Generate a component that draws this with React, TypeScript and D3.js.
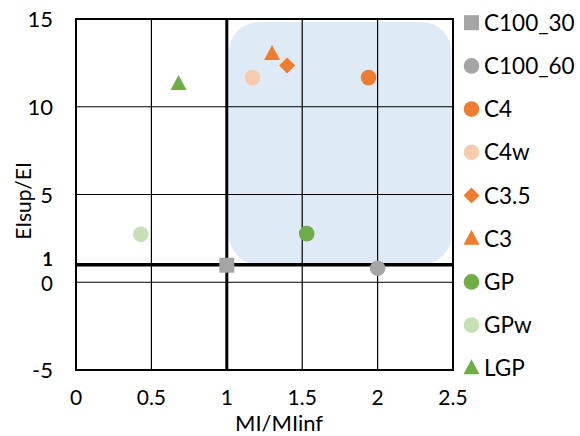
import React from "react";
import * as d3 from "d3";

const xTicks = [0, 0.5, 1, 1.5, 2, 2.5];
const yTicks = [15, 10, 5, 0, -5];
const xGrid = [0.5, 1.5, 2];
const yGrid = [10, 5, 0];

type Series = { name: string; shape: "square" | "circle" | "diamond" | "triangle"; color: string; x: number; y: number };
const seriesNames = ["C100_30", "C100_60", "C4", "C4w", "C3.5", "C3", "GP", "GPw", "LGP"];
const seriesShapes: Series["shape"][] = ["square", "circle", "circle", "circle", "diamond", "triangle", "circle", "circle", "triangle"];
const seriesColors = ["#A5A5A5", "#A5A5A5", "#ED7D31", "#F8CBAD", "#ED7D31", "#ED7D31", "#70AD47", "#C5E0B4", "#70AD47"];
const seriesX = [1.0, 2.0, 1.94, 1.17, 1.4, 1.3, 1.53, 0.43, 0.68];
const seriesY = [0.97, 0.8, 11.66, 11.66, 12.35, 13.0, 2.77, 2.73, 11.3];

const W = 580, H = 436;
const left = 76, right = 453, top = 19, bottom = 370;
const font = "Lato, 'Noto Sans', sans-serif";

function Marker({ shape, color, cx, cy }: { shape: string; color: string; cx: number; cy: number }) {
  if (shape === "square") return <rect x={cx - 7.5} y={cy - 7.5} width={15} height={15} fill={color} />;
  if (shape === "circle") return <circle cx={cx} cy={cy} r={7.8} fill={color} />;
  if (shape === "diamond") return <path d={`M${cx},${cy - 8}L${cx + 8},${cy}L${cx},${cy + 8}L${cx - 8},${cy}Z`} fill={color} />;
  return <path d={`M${cx},${cy - 9}L${cx + 8},${cy + 6}L${cx - 8},${cy + 6}Z`} fill={color} />;
}

export default function App() {
  const x = d3.scaleLinear().domain([0, 2.5]).range([left, right]);
  const y = d3.scaleLinear().domain([-5, 15]).range([bottom, top]);
  const data: Series[] = seriesNames.map((n, i) => ({ name: n, shape: seriesShapes[i], color: seriesColors[i], x: seriesX[i], y: seriesY[i] }));
  const legendY = d3.scaleLinear().domain([0, seriesNames.length - 1]).range([22.7, 368.3]);

  return (
    <svg width={W} height={H} style={{ position: "absolute", left: 0, top: 0 }} fontFamily={font}>
      <rect width={W} height={H} fill="#fff" />
      <rect x={x(1) + 2} y={y(15) + 3} width={x(2.5) - x(1) - 3.5} height={y(1) - y(15) - 3} rx={30} fill="#DEEBF7" />
      {xGrid.map((v) => (
        <line key={"xg" + v} x1={x(v)} x2={x(v)} y1={top} y2={bottom} stroke="#000" strokeWidth={1.2} />
      ))}
      {yGrid.map((v) => (
        <line key={"yg" + v} x1={left} x2={right} y1={y(v)} y2={y(v)} stroke="#000" strokeWidth={1.2} />
      ))}
      <rect x={left} y={top} width={right - left} height={bottom - top} fill="none" stroke="#000" strokeWidth={2} />
      <line x1={x(1)} x2={x(1)} y1={top} y2={bottom} stroke="#000" strokeWidth={3} />
      <line x1={left} x2={right} y1={y(1)} y2={y(1)} stroke="#000" strokeWidth={3.5} />
      {data.map((d) => (
        <Marker key={d.name} shape={d.shape} color={d.color} cx={x(d.x)} cy={y(d.y)} />
      ))}
      {xTicks.map((v) => (
        <text key={"xt" + v} x={x(v)} y={405} textAnchor="middle" fontSize={21} fill="#000">{v}</text>
      ))}
      {yTicks.map((v) => (
        <text key={"yt" + v} x={53} y={v === 0 ? y(v) + 9 : y(v) + 8} textAnchor="end" fontSize={v === 0 ? 20.5 : 22} fill="#000">{v}</text>
      ))}
      <text x={53} y={y(1) + 1.5} textAnchor="end" fontSize={18.5} fontWeight="bold" fill="#000">1</text>
      <text x={279} y={431.2} textAnchor="middle" fontSize={22} fill="#000">MI/MIinf</text>
      <text transform={`translate(31,201) rotate(-90)`} textAnchor="middle" fontSize={21} fill="#000">EIsup/EI</text>
      {data.map((d, i) => (
        <g key={"lg" + d.name}>
          <Marker shape={d.shape} color={d.color} cx={471.5} cy={legendY(i)} />
          <text x={484} y={legendY(i) + 8} fontSize={22.5} fill="#000">{d.name}</text>
        </g>
      ))}
    </svg>
  );
}
